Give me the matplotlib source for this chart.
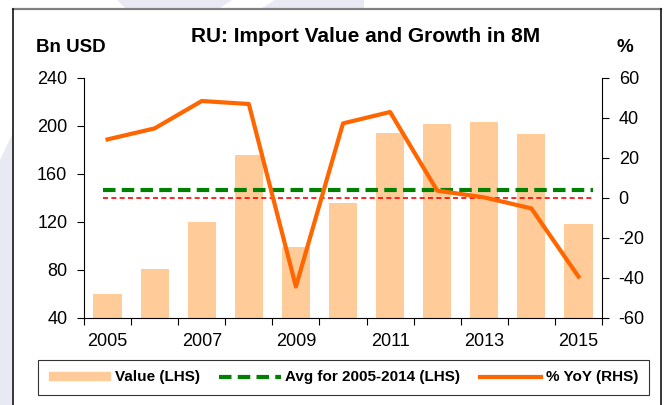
"""RU: import value (bars, LHS) and YoY growth (line, RHS) in 8M."""

import numpy as np
import matplotlib
matplotlib.use("Agg")
from matplotlib import pyplot as plt
from matplotlib.patches import Polygon
from matplotlib.lines import Line2D

years = [2005, 2006, 2007, 2008, 2009, 2010, 2011, 2012, 2013, 2014, 2015]
value_bn_usd = [60, 81, 120, 176, 99, 136, 194, 202, 203, 193, 118]
yoy_pct = [29.3, 34.8, 48.5, 47.0, -44.3, 37.3, 43.0, 3.7, 0.3, -5.2, -39.3]
avg_2005_2014 = 146.4
year_labels = ["2005", "2007", "2009", "2011", "2013", "2015"]

BAR = "#FFCC99"
ORANGE = "#FF6600"
GREEN = "#008000"
RED = "#FF0000"
LAVENDER = "#E9E9F4"

W, H = 672, 405


def px(x, y):
    """Pixel coords (top-left origin) to figure fraction."""
    return x / W, 1 - y / H


def main():
    plt.rcParams["font.family"] = ["Liberation Sans", "DejaVu Sans"]
    plt.rcParams["axes.unicode_minus"] = False
    fig = plt.figure(figsize=(W / 100, H / 100), dpi=100)

    # faint watermark shapes outside the frame
    for pts in (
        [(0, 160), (12, 135), (12, 405), (0, 405)],
        [(117, 0), (232, 0), (220, 8), (125, 8)],
        [(275, 0), (364, 0), (364, 8), (262, 8)],
    ):
        fig.patches.append(Polygon([px(*p) for p in pts], closed=True,
                                   transform=fig.transFigure, color=LAVENDER,
                                   lw=0, zorder=0))

    # chart frame
    fig.add_artist(Line2D([13 / W, 661 / W], [1 - 8.7 / H] * 2, color="#808080", lw=1.6))
    fig.add_artist(Line2D([13 / W] * 2, [1 - 8.7 / H, 0], color="black", lw=1.1))
    fig.add_artist(Line2D([661 / W] * 2, [1 - 8.7 / H, 0], color="black", lw=1.1))

    left, bottom = px(84, 318)
    right, top = px(602, 78)
    ax = fig.add_axes([left, bottom, right - left, top - bottom])
    ax2 = ax.twinx()

    pos = np.arange(len(years))
    ax.bar(pos, value_bn_usd, width=0.6, color=BAR, zorder=1)
    green = ax.hlines(avg_2005_2014, -0.1, len(years) - 0.7, color=GREEN, lw=3, zorder=2)
    green.set_linestyle((0, (3, 1.5)))
    ax.set_ylim(40, 240)
    ax.set_yticks(np.arange(40, 241, 40))
    ax.set_xlim(-0.5, len(years) - 0.5)
    ax.set_xticks(np.arange(-0.5, len(years)), labels=[])
    ax.set_xticks(pos[::2], labels=year_labels, minor=True)
    ax.tick_params(axis="x", which="minor", length=0, pad=11, labelsize=13)
    ax.tick_params(axis="x", which="major", direction="out", length=5, width=0.8)
    ax.tick_params(axis="y", direction="out", length=5, width=0.8, pad=7, labelsize=13)

    ax2.hlines(0, -0.1, len(years) - 0.7, color=RED, lw=1.2, linestyles=(0, (3, 2)), zorder=3)
    ax2.plot(pos, yoy_pct, color=ORANGE, lw=3, zorder=4)
    ax2.set_ylim(-60, 60)
    ax2.set_yticks(np.arange(-60, 61, 20))
    ax2.tick_params(axis="y", direction="out", length=5, width=0.8, pad=7, labelsize=13)

    for a in (ax, ax2):
        a.spines["top"].set_visible(False)
        a.patch.set_visible(False)
        for s in ("left", "right", "bottom"):
            a.spines[s].set_linewidth(0.8)
    ax.spines["right"].set_visible(False)
    ax2.spines["left"].set_visible(False)
    ax2.spines["bottom"].set_visible(False)

    fig.text(*px(366, 36), "RU: Import Value and Growth in 8M", ha="center", va="center",
             fontsize=15, fontweight="bold")
    fig.text(*px(36, 48), "Bn USD", ha="left", va="center", fontsize=13.5, fontweight="bold")
    fig.text(*px(625, 47), "%", ha="center", va="center", fontsize=13.5, fontweight="bold")

    handles = [
        plt.Rectangle((0, 0), 1, 1, color=BAR),
        Line2D([], [], color=GREEN, lw=3, linestyle=(0, (3, 1.5))),
        Line2D([], [], color=ORANGE, lw=3),
    ]
    labels = ["Value (LHS)", "Avg for 2005-2014 (LHS)", "% YoY (RHS)"]
    leg = fig.legend(handles, labels, loc="center", bbox_to_anchor=px(343.5, 377.5),
                     ncol=3, frameon=True, fancybox=False, edgecolor="black",
                     prop={"weight": "bold", "size": 11}, handlelength=4,
                     handleheight=0.5, handletextpad=0.3, columnspacing=1.3,
                     borderpad=0.7, borderaxespad=0)
    leg.get_frame().set_linewidth(0.8)

    fig.savefig("out.png", dpi=100)


if __name__ == "__main__":
    main()
